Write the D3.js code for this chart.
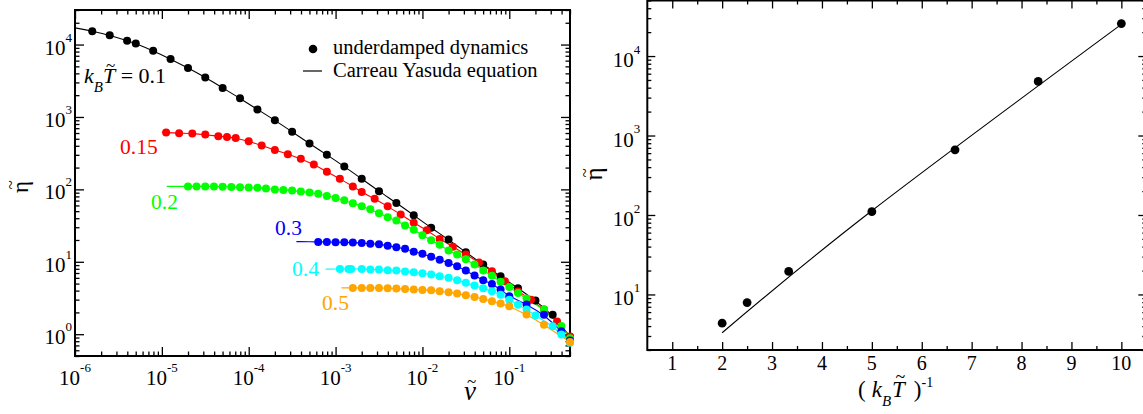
<!DOCTYPE html>
<html>
<head>
<meta charset="utf-8">
<script src="https://cdn.jsdelivr.net/npm/d3@7"></script>
<style>
  body { margin: 0; background: #fff; }
  svg text { font-family: "Liberation Serif", "Times New Roman", serif; fill: #000; }
</style>
</head>
<body>
<svg id="chart" width="1143" height="414"></svg>
<script>
// ---------- Left panel: viscosity vs. shear rate ----------
const vBlack = [1.58e-6, 2.51e-6, 3.98e-6, 5.01e-6, 7.94e-6, 1.26e-5, 2.00e-5, 3.16e-5, 5.01e-5, 7.94e-5,
  1.26e-4, 2.00e-4, 3.16e-4, 5.01e-4, 7.94e-4, 1.26e-3, 2.00e-3, 3.16e-3, 5.01e-3, 7.94e-3,
  1.26e-2, 2.00e-2, 3.16e-2, 5.01e-2, 7.94e-2, 0.126, 0.200, 0.316, 0.500];
const etaBlack = [15300, 13400, 11300, 10300, 8190, 6310, 4740, 3520, 2520, 1810,
  1270, 901, 623, 429, 300, 207, 140, 94, 65, 43.9,
  29.4, 20.3, 13.5, 9.15, 6.3, 4.31, 2.91, 1.85, 0.92];

const vRed = [1.12e-5, 1.58e-5, 2.24e-5, 3.16e-5, 4.47e-5, 5.62e-5, 7.08e-5, 1.00e-4, 1.41e-4, 2.00e-4,
  2.82e-4, 3.98e-4, 5.62e-4, 7.94e-4, 1.12e-3, 1.58e-3, 2.00e-3, 2.82e-3, 3.98e-3, 5.62e-3,
  7.94e-3, 1.12e-2, 1.58e-2, 2.24e-2, 3.16e-2, 4.47e-2, 6.31e-2, 8.91e-2, 0.126, 0.178,
  0.251, 0.355, 0.500];
const etaRed = [609, 596, 592, 571, 541, 527, 511, 462, 405, 349,
  306, 264, 220, 175, 140, 110, 92, 74, 58.5, 44.9,
  34.5, 27.3, 20.7, 16.1, 12.6, 9.8, 7.4, 5.4, 3.9, 3.0,
  2.2, 1.5, 0.93];

const vGreen = [2.00e-5, 2.51e-5, 3.16e-5, 3.98e-5, 5.01e-5, 6.31e-5, 7.94e-5, 1.00e-4, 1.26e-4, 1.58e-4,
  2.00e-4, 2.51e-4, 3.16e-4, 3.98e-4, 5.01e-4, 6.31e-4, 7.94e-4, 1.00e-3, 1.26e-3, 1.58e-3,
  2.00e-3, 2.51e-3, 3.16e-3, 3.98e-3, 5.01e-3, 6.31e-3, 7.94e-3, 1.00e-2, 1.26e-2, 1.58e-2,
  2.00e-2, 2.51e-2, 3.16e-2, 3.98e-2, 5.01e-2, 6.31e-2, 7.94e-2, 0.100, 0.126, 0.158,
  0.251, 0.398, 0.500];
const etaGreen = [110, 110, 110, 110, 109, 108, 107, 106, 105, 103,
  100, 98.4, 96.2, 93.2, 90.3, 86.7, 81.3, 76.3, 70.6, 64.3,
  58.6, 53.2, 46.8, 41.2, 37.1, 31.7, 27.7, 23.2, 19.9, 17.2,
  14.3, 12.6, 10.8, 9.2, 7.6, 6.4, 5.3, 4.5, 3.7, 3.1,
  2.2, 1.3, 0.88];

const vBlue = [6.31e-4, 7.94e-4, 1.00e-3, 1.26e-3, 1.58e-3, 2.00e-3, 2.51e-3, 3.16e-3, 3.98e-3, 5.01e-3,
  6.31e-3, 7.94e-3, 1.00e-2, 1.26e-2, 1.58e-2, 2.00e-2, 2.51e-2, 3.16e-2, 3.98e-2, 5.01e-2,
  6.31e-2, 7.94e-2, 0.100, 0.158, 0.251, 0.398, 0.500];
const etaBlue = [18.8, 18.8, 18.6, 18.6, 18.4, 18.2, 17.8, 17.5, 16.7, 15.9,
  15.1, 13.8, 12.9, 11.7, 10.7, 9.66, 8.67, 7.56, 6.45, 5.55,
  4.95, 4.13, 3.34, 2.57, 1.86, 1.1, 0.82];

const vCyan = [1.12e-3, 1.41e-3, 1.51e-3, 2.00e-3, 2.51e-3, 3.16e-3, 3.98e-3, 5.01e-3, 6.31e-3, 7.94e-3,
  1.00e-2, 1.26e-2, 1.58e-2, 2.00e-2, 2.51e-2, 3.16e-2, 3.98e-2, 5.01e-2, 6.31e-2, 7.94e-2,
  0.100, 0.126, 0.158, 0.200, 0.316, 0.398, 0.500];
const etaCyan = [7.98, 7.98, 7.98, 7.98, 7.8, 7.8, 7.63, 7.56, 7.32, 7.16,
  6.94, 6.66, 6.31, 6.0, 5.56, 5.12, 4.69, 4.31, 3.92, 3.5,
  3.0, 2.56, 2.19, 1.81, 1.29, 0.99, 0.76];

const vOrange = [1.58e-3, 2.00e-3, 2.51e-3, 3.16e-3, 3.98e-3, 5.01e-3, 6.31e-3, 7.94e-3, 1.00e-2, 1.26e-2,
  1.58e-2, 2.00e-2, 2.51e-2, 3.16e-2, 3.98e-2, 5.01e-2, 6.31e-2, 7.94e-2, 0.100, 0.158,
  0.251, 0.500];
const etaOrange = [4.36, 4.36, 4.36, 4.36, 4.31, 4.26, 4.22, 4.13, 4.09, 4.04,
  3.91, 3.79, 3.64, 3.45, 3.27, 3.07, 2.85, 2.65, 2.43, 1.87,
  1.35, 0.78];

// temperatures and colours of the six runs
const tempLabels = ["0.1", "0.15", "0.2", "0.3", "0.4", "0.5"];
const seriesColors = ["#000000", "#ff0000", "#00ff00", "#0000ff", "#00ffff", "#ffa500"];
// where each Carreau-Yasuda curve starts on the low-rate side
const fitStartV = [1e-6, 1.0e-5, 1.14e-5, 3.54e-4, 7.66e-4, 1.17e-3];
const fitStartEta = [17000, 618, 110, 19, 7.9, 4.36];

// ---------- Right panel: zero-rate viscosity vs inverse temperature ----------
const invT = [2, 2.5, 3.333, 5, 6.667, 8.333, 10];
const eta0 = [4.35, 7.9, 19.5, 110, 660, 4800, 25600];
const fitInvT = [2, 5, 10];
const fitEta0 = [3.3, 113, 25000];

// tick labels
const leftXExps = [-6, -5, -4, -3, -2, -1];
const leftYExps = [0, 1, 2, 3, 4];
const rightXTicks = [1, 2, 3, 4, 5, 6, 7, 8, 9, 10];
const rightYExps = [1, 2, 3, 4];

const seriesV = [vBlack, vRed, vGreen, vBlue, vCyan, vOrange];
const seriesEta = [etaBlack, etaRed, etaGreen, etaBlue, etaCyan, etaOrange];

const svg = d3.select("#chart");
svg.append("rect").attr("width", 1143).attr("height", 414).attr("fill", "#fff");

// ---- shared helpers ----
function logMinor(domain) {
  const out = [];
  const lo = Math.floor(Math.log10(domain[0])), hi = Math.ceil(Math.log10(domain[1]));
  for (let e = lo; e <= hi; e++) {
    for (let m = 2; m <= 9; m++) {
      const v = m * Math.pow(10, e);
      if (v >= domain[0] && v <= domain[1]) out.push(v);
    }
  }
  return out;
}

function drawTicks(g, axisFn, scale, values, size, transform) {
  g.append("g")
    .attr("transform", transform)
    .call(axisFn(scale).tickValues(values).tickSize(size).tickSizeOuter(0).tickFormat(""))
    .call(s => s.select(".domain").remove())
    .call(s => s.selectAll("line").attr("stroke", "#000").attr("stroke-width", 1.3));
}

// power-of-ten label: "10" with raised exponent
function powLabel(g, x, y, exp, anchor, base, sup) {
  const t = g.append("text").attr("x", x).attr("y", y).attr("text-anchor", anchor)
    .style("font-size", base + "px");
  t.append("tspan").text("10");
  t.append("tspan").attr("dy", -base * 0.62).style("font-size", sup + "px").text(exp);
  return t;
}

// tilde accent whose ink is centred on (cx, cy)
function tilde(parent, cx, cy, size) {
  parent.append("text").attr("x", cx).attr("y", cy + 0.266 * size)
    .attr("text-anchor", "middle").style("font-size", size + "px").text("~");
}

// tilde over one character of an existing text element
function tildeOverChar(parent, textSel, index, baseline, fs, lift, size, shift) {
  const ext = textSel.node().getExtentOfChar(index);
  tilde(parent, ext.x + ext.width / 2 + shift, baseline - 0.66 * fs - lift, size);
}

// ================= LEFT PANEL =================
const L = { x0: 75, x1: 570, y0: 10, y1: 356 };
const xL = d3.scaleLog().domain([1e-6, 0.5]).range([L.x0, L.x1]);
const yL = d3.scaleLog().domain([0.5, 3e4]).range([L.y1, L.y0]);
const gL = svg.append("g");

const xMajL = leftXExps.map(e => Math.pow(10, e));
const yMajL = leftYExps.map(e => Math.pow(10, e));
drawTicks(gL, d3.axisBottom, xL, xMajL, -9, `translate(0,${L.y1})`);
drawTicks(gL, d3.axisBottom, xL, logMinor(xL.domain()), -4.5, `translate(0,${L.y1})`);
drawTicks(gL, d3.axisTop, xL, xMajL, -9, `translate(0,${L.y0})`);
drawTicks(gL, d3.axisTop, xL, logMinor(xL.domain()), -4.5, `translate(0,${L.y0})`);
drawTicks(gL, d3.axisLeft, yL, yMajL, -9, `translate(${L.x0},0)`);
drawTicks(gL, d3.axisLeft, yL, logMinor(yL.domain()), -4.5, `translate(${L.x0},0)`);
drawTicks(gL, d3.axisRight, yL, yMajL, -9, `translate(${L.x1},0)`);
drawTicks(gL, d3.axisRight, yL, logMinor(yL.domain()), -4.5, `translate(${L.x1},0)`);

gL.append("rect").attr("x", L.x0).attr("y", L.y0).attr("width", L.x1 - L.x0).attr("height", L.y1 - L.y0)
  .attr("fill", "none").attr("stroke", "#000").attr("stroke-width", 2);

leftXExps.forEach(e => powLabel(gL, xL(Math.pow(10, e)), 385, e, "middle", 21, 13));
leftYExps.forEach(e => powLabel(gL, L.x0 - 3, yL(Math.pow(10, e)) + 10, e, "end", 21, 13));

// fitted curves, then the measured points
const lineL = d3.line().x(d => xL(d[0])).y(d => yL(d[1])).curve(d3.curveBasis);
seriesV.forEach((vs, i) => {
  const pts = [[fitStartV[i], fitStartEta[i]]].concat(vs.map((v, j) => [v, seriesEta[i][j]]));
  gL.append("path").attr("d", lineL(pts)).attr("fill", "none")
    .attr("stroke", seriesColors[i]).attr("stroke-width", 1.1);
});
seriesV.forEach((vs, i) => {
  gL.append("g").selectAll("circle").data(vs.map((v, j) => [v, seriesEta[i][j]])).join("circle")
    .attr("cx", d => xL(d[0])).attr("cy", d => yL(d[1])).attr("r", 4)
    .attr("fill", seriesColors[i]);
});

// axis titles
const yTitleL = gL.append("g").attr("transform", "translate(28,187) rotate(-90)");
yTitleL.append("text").attr("text-anchor", "middle").style("font-size", "23px").text("η");
tilde(yTitleL, 2, -16.5, 17);

const xTitleL = gL.append("g");
xTitleL.append("text").attr("x", 470).attr("y", 400).attr("text-anchor", "middle")
  .style("font-size", "27px").style("font-style", "italic").text("v");
tilde(xTitleL, 471.5, 382.5, 17);

// temperature labels next to each curve
const kbt = gL.append("text").attr("x", 84).attr("y", 83).style("font-size", "22px");
kbt.append("tspan").style("font-style", "italic").text("k");
kbt.append("tspan").attr("dy", 9).style("font-size", "15px").style("font-style", "italic").text("B");
kbt.append("tspan").attr("dy", -9).style("font-style", "italic").text("T");
kbt.append("tspan").text(" = 0.1");
tildeOverChar(gL, kbt, 2, 83, 20, 3, 17, 1.5);

const tempPos = [null, [120, 154], [151, 209], [275, 235], [292, 276], [322, 310]];
tempLabels.forEach((t, i) => {
  if (!tempPos[i]) return;
  gL.append("text").attr("x", tempPos[i][0]).attr("y", tempPos[i][1])
    .style("font-size", "21.5px").style("fill", seriesColors[i]).text(t);
});

// legend
gL.append("circle").attr("cx", 313).attr("cy", 49).attr("r", 4.3).attr("fill", "#000");
gL.append("text").attr("x", 333).attr("y", 54).style("font-size", "20.5px").text("underdamped dynamics");
gL.append("line").attr("x1", 303).attr("x2", 322).attr("y1", 71).attr("y2", 71).attr("stroke", "#000").attr("stroke-width", 1.2);
gL.append("text").attr("x", 333).attr("y", 77).style("font-size", "20.5px").text("Carreau Yasuda equation");

// ================= RIGHT PANEL =================
const R = { x0: 647.3, x1: 1146.3, y0: 0.5, y1: 350 };
const xR = d3.scaleLinear().domain([0.5, 10.5]).range([R.x0, R.x1]);
const yR = d3.scaleLog().domain([2, 5e4]).range([R.y1, R.y0]);
const gR = svg.append("g");

const xMinorR = rightXTicks.map(v => v + 0.5).filter(v => v > 0.5 && v < 10.5);
const yMajR = rightYExps.map(e => Math.pow(10, e));
drawTicks(gR, d3.axisBottom, xR, rightXTicks, -8, `translate(0,${R.y1})`);
drawTicks(gR, d3.axisBottom, xR, xMinorR, -4, `translate(0,${R.y1})`);
drawTicks(gR, d3.axisTop, xR, rightXTicks, -8, `translate(0,${R.y0})`);
drawTicks(gR, d3.axisTop, xR, xMinorR, -4, `translate(0,${R.y0})`);
drawTicks(gR, d3.axisLeft, yR, yMajR, -8, `translate(${R.x0},0)`);
drawTicks(gR, d3.axisLeft, yR, logMinor(yR.domain()), -4, `translate(${R.x0},0)`);
drawTicks(gR, d3.axisRight, yR, yMajR, -8, `translate(${R.x1},0)`);
drawTicks(gR, d3.axisRight, yR, logMinor(yR.domain()), -4, `translate(${R.x1},0)`);

gR.append("rect").attr("x", R.x0).attr("y", R.y0).attr("width", R.x1 - R.x0).attr("height", R.y1 - R.y0)
  .attr("fill", "none").attr("stroke", "#000").attr("stroke-width", 2);

rightXTicks.forEach(v => gR.append("text").attr("x", xR(v)).attr("y", 370)
  .attr("text-anchor", "middle").style("font-size", "20px").text(v));
rightYExps.forEach(e => powLabel(gR, R.x0 - 7, yR(Math.pow(10, e)) + 11, e, "end", 21, 13));

const lineR = d3.line().x(d => xR(d[0])).y(d => yR(d[1])).curve(d3.curveNatural);
gR.append("path").attr("d", lineR(fitInvT.map((v, i) => [v, fitEta0[i]])))
  .attr("fill", "none").attr("stroke", "#000").attr("stroke-width", 1.1);
gR.append("g").selectAll("circle").data(invT.map((v, i) => [v, eta0[i]])).join("circle")
  .attr("cx", d => xR(d[0])).attr("cy", d => yR(d[1])).attr("r", 4.4).attr("fill", "#000");

const yTitleR = gR.append("g").attr("transform", "translate(602,174) rotate(-90)");
yTitleR.append("text").attr("text-anchor", "middle").style("font-size", "25px").text("η");
tilde(yTitleR, 1, -17, 17);

const xTitleR = gR.append("text").attr("x", 858).attr("y", 397).style("font-size", "23px");
xTitleR.append("tspan").text("(");
xTitleR.append("tspan").attr("dx", 6).style("font-style", "italic").text("k");
xTitleR.append("tspan").attr("dy", 9).style("font-size", "15px").style("font-style", "italic").text("B");
xTitleR.append("tspan").attr("dy", -9).attr("dx", 1).style("font-style", "italic").text("T");
xTitleR.append("tspan").attr("dx", 9).text(")");
xTitleR.append("tspan").attr("dy", -10).style("font-size", "14px").text("-1");
tildeOverChar(gR, xTitleR, 3, 397, 23, 4, 18, 2);
</script>
</body>
</html>
